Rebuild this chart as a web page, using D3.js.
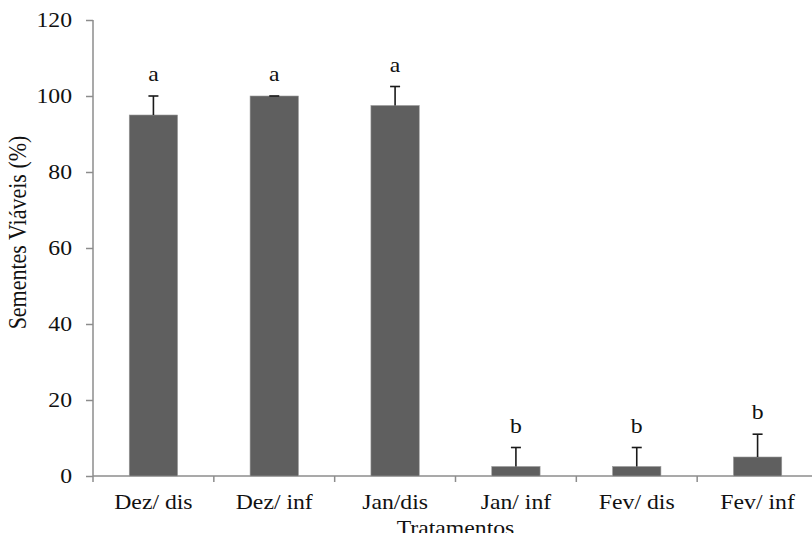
<!DOCTYPE html>
<html>
<head>
<meta charset="utf-8">
<script src="https://cdn.jsdelivr.net/npm/d3@7"></script>
<style>
  html, body { margin: 0; padding: 0; background: #fff; }
  svg { display: block; }
  text { font-family: "Liberation Serif", "Times New Roman", serif; fill: #111; }
</style>
</head>
<body>
<div id="chart"></div>
<script>
// Viable seeds (%) per treatment, with upper error and significance letter
const categories = ["Dez/ dis", "Dez/ inf", "Jan/dis", "Jan/ inf", "Fev/ dis", "Fev/ inf"];
const viable = [95, 100, 97.5, 2.5, 2.5, 5];
const errors = [5, 0, 5, 5, 5, 6];
const letters = ["a", "a", "a", "b", "b", "b"];
const yTicks = [0, 20, 40, 60, 80, 100, 120];

const width = 812, height = 533;
const plot = { left: 93, right: 818, top: 20, bottom: 476 };
const fontSize = 21;
const stretch = 1.13; // horizontal glyph stretch

const svg = d3.select("#chart").append("svg")
  .attr("width", width).attr("height", height);

const x = d3.scaleBand().domain(categories).range([plot.left, plot.right]).padding(0);
const y = d3.scaleLinear().domain([0, 120]).range([plot.bottom, plot.top]);
const barW = x.bandwidth() * 0.4;

const axisColor = "#8c8c8c";

// helper: horizontal text, stretched about its anchor point
function label(g, tx, ty, str, anchor) {
  return g.append("text")
    .attr("transform", `translate(${tx},${ty}) scale(${stretch},1)`)
    .attr("text-anchor", anchor || "middle")
    .attr("font-size", fontSize)
    .text(str);
}

// y axis
const yAxis = svg.append("g")
  .attr("transform", `translate(${plot.left},0)`)
  .call(d3.axisLeft(y).tickValues(yTicks).tickSize(7).tickFormat(() => ""));
yAxis.selectAll("path, line").attr("stroke", axisColor).attr("stroke-width", 1.5);
yAxis.select(".domain").attr("d", `M0,${plot.top}V${plot.bottom}`);
yAxis.selectAll("text").remove();
const yLab = svg.append("g");
yTicks.forEach(t => label(yLab, 72, y(t) + 7, String(t), "end"));

// x axis with tick marks between categories
const xAxis = svg.append("g").attr("transform", `translate(0,${plot.bottom})`);
xAxis.append("line")
  .attr("x1", plot.left).attr("x2", plot.right)
  .attr("stroke", axisColor).attr("stroke-width", 1.5);
const boundaries = categories.map(c => x(c)).concat([x(categories[categories.length - 1]) + x.bandwidth()]);
xAxis.selectAll("line.sep").data(boundaries).join("line")
  .attr("class", "sep")
  .attr("x1", d => d).attr("x2", d => d)
  .attr("y1", 0).attr("y2", 6)
  .attr("stroke", axisColor).attr("stroke-width", 1.5);
categories.forEach(c => label(xAxis, x(c) + x.bandwidth() / 2, 33, c));

// bars
const rows = categories.map((c, i) => ({ c, v: viable[i], e: errors[i], l: letters[i] }));
svg.append("g").selectAll("rect").data(rows).join("rect")
  .attr("x", d => x(d.c) + (x.bandwidth() - barW) / 2)
  .attr("y", d => y(d.v))
  .attr("width", barW)
  .attr("height", d => y(0) - y(d.v))
  .attr("fill", "#5f5f5f")
  .attr("stroke", "#9a9a9a")
  .attr("stroke-width", 0.6);

// upper error bars
const eb = svg.append("g").attr("stroke", "#1a1a1a").attr("stroke-width", 1.6);
eb.selectAll("line.stem").data(rows).join("line")
  .attr("class", "stem")
  .attr("x1", d => x(d.c) + x.bandwidth() / 2).attr("x2", d => x(d.c) + x.bandwidth() / 2)
  .attr("y1", d => y(d.v)).attr("y2", d => y(d.v + d.e));
eb.selectAll("line.cap").data(rows).join("line")
  .attr("class", "cap")
  .attr("x1", d => x(d.c) + x.bandwidth() / 2 - 5).attr("x2", d => x(d.c) + x.bandwidth() / 2 + 5)
  .attr("y1", d => y(d.v + d.e)).attr("y2", d => y(d.v + d.e));

// significance letters
const letG = svg.append("g");
rows.forEach(d => label(letG, x(d.c) + x.bandwidth() / 2, y(d.v + d.e) - 15, d.l));

// axis titles
label(svg, (plot.left + plot.right) / 2, 535, "Tratamentos");

svg.append("text")
  .attr("transform", `translate(26,${(135 + 330) / 2}) rotate(-90) scale(1,${stretch})`)
  .attr("text-anchor", "middle")
  .attr("font-size", 22)
  .text("Sementes Viáveis (%)");
</script>
</body>
</html>
